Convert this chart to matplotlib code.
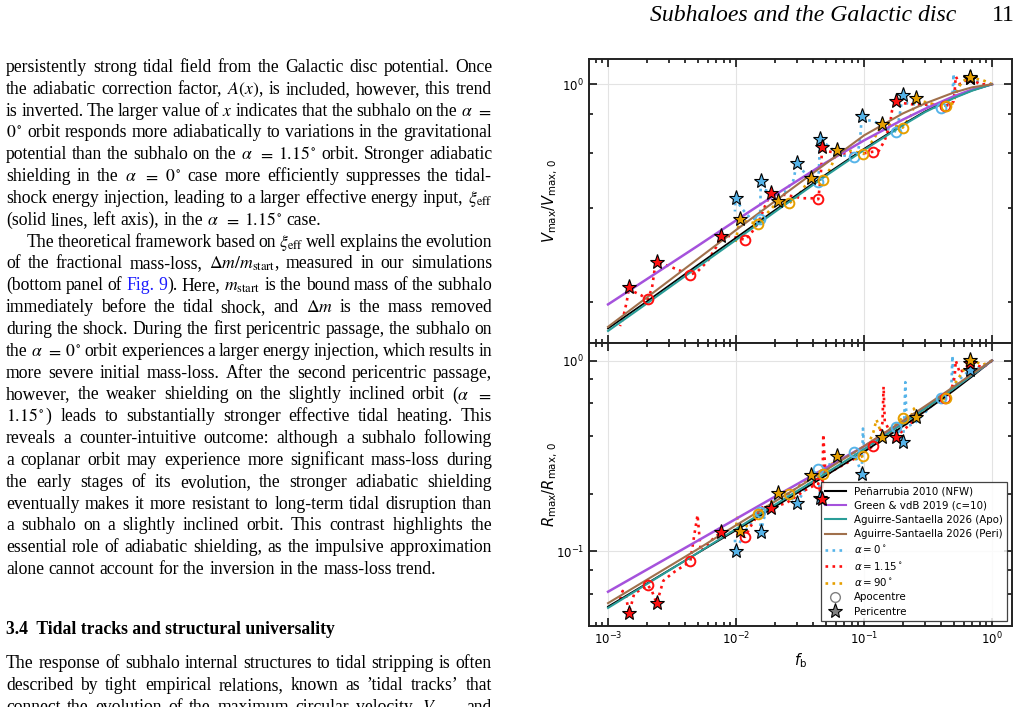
import matplotlib
matplotlib.use("Agg")
import matplotlib.pyplot as plt
import matplotlib.ticker as mticker
from matplotlib.lines import Line2D

W, H = 1023, 707

# ---------------- data ----------------
# model tidal tracks (sampled along the curves)
model_fb = [1e-3, 2e-3, 5e-3, 1e-2, 2e-2, 5e-2, 0.1, 0.2, 0.3, 0.5, 0.7, 1.0]
pen_v = [0.164, 0.200, 0.262, 0.321, 0.393, 0.512, 0.620, 0.742, 0.818, 0.905, 0.956, 1.0]
green_v = [0.196, 0.236, 0.302, 0.365, 0.440, 0.559, 0.660, 0.769, 0.834, 0.914, 0.962, 1.0]
apo_v = [0.161, 0.197, 0.258, 0.316, 0.388, 0.507, 0.615, 0.737, 0.814, 0.902, 0.954, 1.0]
peri_v = [0.166, 0.206, 0.274, 0.340, 0.420, 0.555, 0.685, 0.805, 0.868, 0.940, 0.978, 1.0]
pen_r = [0.0513, 0.0677, 0.0978, 0.129, 0.171, 0.249, 0.333, 0.451, 0.543, 0.695, 0.826, 1.0]
green_r = [0.0614, 0.080, 0.1135, 0.148, 0.193, 0.273, 0.355, 0.475, 0.568, 0.718, 0.844, 1.0]
apo_r = [0.0505, 0.0672, 0.098, 0.131, 0.175, 0.256, 0.343, 0.466, 0.560, 0.712, 0.840, 1.0]
peri_r = [0.0535, 0.0708, 0.1025, 0.137, 0.182, 0.266, 0.356, 0.482, 0.577, 0.728, 0.852, 1.0]

# pericentre (stars) and apocentre (circles) snapshots
star_fb_a0 = [0.0099, 0.0156, 0.0298, 0.0453, 0.0959, 0.200, 0.673]
star_v_a0 = [0.430, 0.490, 0.557, 0.666, 0.793, 0.924, 1.05]
star_r_a0 = [0.100, 0.127, 0.179, 0.190, 0.253, 0.376, 0.894]
circ_fb_a0 = [0.0154, 0.0439, 0.0836, 0.179, 0.400]
circ_v_a0 = [0.368, 0.486, 0.582, 0.704, 0.837]
circ_r_a0 = [0.161, 0.269, 0.331, 0.451, 0.640]

star_fb_a1 = [0.00146, 0.0024, 0.00764, 0.01866, 0.0467, 0.1766, 0.673]
star_v_a1 = [0.223, 0.268, 0.326, 0.446, 0.630, 0.884, 1.05]
star_r_a1 = [0.0473, 0.0533, 0.126, 0.168, 0.188, 0.399, 0.969]
circ_fb_a1 = [0.00204, 0.0044, 0.01175, 0.0439, 0.118, 0.425]
circ_v_a1 = [0.204, 0.244, 0.316, 0.427, 0.607, 0.852]
circ_r_a1 = [0.0666, 0.0893, 0.119, 0.227, 0.357, 0.635]

star_fb_a90 = [0.01075, 0.0214, 0.0383, 0.0619, 0.139, 0.255, 0.673]
star_v_a90 = [0.368, 0.421, 0.501, 0.615, 0.745, 0.902, 1.053]
star_r_a90 = [0.128, 0.2015, 0.251, 0.316, 0.399, 0.505, 1.01]
circ_fb_a90 = [0.0149, 0.0261, 0.0481, 0.0987, 0.200, 0.438]
circ_v_a90 = [0.356, 0.414, 0.493, 0.597, 0.725, 0.852]
circ_r_a90 = [0.157, 0.200, 0.2535, 0.316, 0.502, 0.635]

# simulation tracks (fb, value)
track_v_a0 = [(1.0, 1.0), (0.85, 1.0), (0.673, 1.05), (0.56, 1.0), (0.51, 0.93), (0.5, 1.08),
              (0.49, 0.92), (0.45, 0.86), (0.40, 0.837), (0.33, 0.845), (0.26, 0.86), (0.21, 0.87),
              (0.2, 0.924), (0.19, 0.80), (0.179, 0.704), (0.15, 0.72), (0.12, 0.76), (0.1, 0.77),
              (0.0959, 0.793), (0.094, 0.70), (0.09, 0.61), (0.0836, 0.582), (0.07, 0.59),
              (0.056, 0.62), (0.0453, 0.666), (0.0446, 0.56), (0.0439, 0.486), (0.037, 0.50),
              (0.0298, 0.557), (0.028, 0.49), (0.024, 0.45), (0.02, 0.44), (0.0165, 0.46),
              (0.0156, 0.49), (0.0155, 0.42), (0.0154, 0.368), (0.013, 0.37), (0.011, 0.40),
              (0.0099, 0.43), (0.0098, 0.39)]
track_v_a1 = [(1.0, 1.0), (0.9, 1.0), (0.8, 1.0), (0.673, 1.05), (0.56, 1.0), (0.52, 1.06),
              (0.51, 0.95), (0.5, 0.88), (0.47, 0.86), (0.425, 0.852), (0.38, 0.86), (0.3, 0.86),
              (0.25, 0.86), (0.2, 0.87), (0.1766, 0.884), (0.165, 0.82), (0.16, 0.75), (0.145, 0.66),
              (0.13, 0.61), (0.118, 0.607), (0.1, 0.60), (0.08, 0.60), (0.065, 0.60), (0.05, 0.61),
              (0.0467, 0.63), (0.0465, 0.55), (0.045, 0.47), (0.0439, 0.427), (0.04, 0.43),
              (0.033, 0.43), (0.025, 0.44), (0.01866, 0.446), (0.017, 0.41), (0.015, 0.36),
              (0.013, 0.33), (0.01175, 0.316), (0.0105, 0.32), (0.009, 0.325), (0.00764, 0.326),
              (0.007, 0.30), (0.006, 0.27), (0.005, 0.25), (0.0044, 0.244), (0.0038, 0.25),
              (0.003, 0.26), (0.0024, 0.268), (0.0023, 0.25), (0.0022, 0.22), (0.00204, 0.204),
              (0.0018, 0.21), (0.0016, 0.215), (0.00146, 0.223), (0.0014, 0.20), (0.0013, 0.175),
              (0.00124, 0.167)]
track_v_a90 = [(1.0, 1.0), (0.85, 1.03), (0.673, 1.053), (0.58, 1.02), (0.52, 0.93), (0.5, 0.87),
               (0.438, 0.852), (0.36, 0.86), (0.29, 0.88), (0.255, 0.902), (0.235, 0.80),
               (0.2, 0.725), (0.165, 0.74), (0.139, 0.745), (0.12, 0.67), (0.0987, 0.597),
               (0.08, 0.61), (0.0619, 0.615), (0.055, 0.54), (0.0481, 0.493), (0.043, 0.50),
               (0.0383, 0.501), (0.032, 0.45), (0.0261, 0.414), (0.0214, 0.421), (0.018, 0.39),
               (0.0149, 0.356), (0.012, 0.362), (0.01075, 0.368), (0.0103, 0.34), (0.0099, 0.31)]
track_r_a0 = [(1.0, 1.0), (0.85, 0.93), (0.673, 0.894), (0.56, 0.80), (0.5, 0.72), (0.49, 1.06),
              (0.48, 0.72), (0.44, 0.66), (0.40, 0.64), (0.32, 0.56), (0.25, 0.47), (0.215, 0.45),
              (0.21, 0.77), (0.205, 0.45), (0.2, 0.376), (0.179, 0.451), (0.15, 0.42), (0.12, 0.37),
              (0.1, 0.33), (0.098, 0.44), (0.0959, 0.253), (0.0836, 0.331), (0.065, 0.30),
              (0.05, 0.28), (0.0453, 0.19), (0.0439, 0.269), (0.036, 0.22), (0.0298, 0.179),
              (0.025, 0.20), (0.02, 0.185), (0.017, 0.16), (0.0156, 0.127), (0.0154, 0.161),
              (0.012, 0.13), (0.0099, 0.10), (0.0098, 0.115)]
track_r_a1 = [(1.0, 1.0), (0.85, 0.92), (0.673, 0.969), (0.56, 0.86), (0.52, 1.0), (0.51, 0.82),
              (0.48, 0.70), (0.425, 0.635), (0.36, 0.60), (0.28, 0.53), (0.21, 0.44),
              (0.1766, 0.399), (0.16, 0.42), (0.145, 0.48), (0.142, 0.73), (0.139, 0.47),
              (0.128, 0.38), (0.118, 0.357), (0.1, 0.33), (0.08, 0.30), (0.06, 0.27), (0.05, 0.25),
              (0.048, 0.41), (0.0475, 0.26), (0.0467, 0.188), (0.0439, 0.227), (0.035, 0.21),
              (0.025, 0.18), (0.01866, 0.168), (0.016, 0.17), (0.013, 0.135), (0.01175, 0.119),
              (0.0095, 0.125), (0.00764, 0.126), (0.0065, 0.115), (0.0053, 0.10), (0.005, 0.155),
              (0.0047, 0.12), (0.0044, 0.0893), (0.004, 0.085), (0.0032, 0.077), (0.0027, 0.07),
              (0.0024, 0.0533), (0.0022, 0.062), (0.00204, 0.0666), (0.0018, 0.063),
              (0.0016, 0.06), (0.00146, 0.0473), (0.00138, 0.058), (0.0013, 0.062),
              (0.00124, 0.056)]
track_r_a90 = [(1.0, 1.0), (0.85, 0.95), (0.673, 1.01), (0.58, 0.86), (0.5, 0.74), (0.438, 0.635),
               (0.36, 0.60), (0.3, 0.55), (0.255, 0.505), (0.245, 0.56), (0.23, 0.50),
               (0.2, 0.502), (0.17, 0.45), (0.15, 0.43), (0.139, 0.399), (0.125, 0.49),
               (0.118, 0.42), (0.0987, 0.316), (0.08, 0.30), (0.0619, 0.316), (0.055, 0.28),
               (0.0481, 0.2535), (0.043, 0.25), (0.0383, 0.251), (0.031, 0.22), (0.0261, 0.20),
               (0.0214, 0.2015), (0.018, 0.175), (0.0149, 0.157), (0.012, 0.135),
               (0.01075, 0.128), (0.0102, 0.15), (0.0099, 0.125)]

model_labels = ['Peñarrubia 2010 (NFW)', 'Green & vdB 2019 (c=10)',
                'Aguirre-Santaella 2026 (Apo)', 'Aguirre-Santaella 2026 (Peri)']
model_colors = ['black', '#a552dc', '#2a9d98', '#a0704c']
alpha_labels = [r'$\alpha=0^\circ$', r'$\alpha=1.15^\circ$', r'$\alpha=90^\circ$']
alpha_colors = ['#56B4E9', '#FF1010', '#E69F00']

# ---------------- page text ----------------
header = 'Subhaloes and the Galactic disc'
page_no = '11'
para1 = [
    'persistently strong tidal field from the Galactic disc potential. Once',
    'the adiabatic correction factor, $A(x)$, is included, however, this trend',
    r'is inverted. The larger value of $x$ indicates that the subhalo on the $\alpha$ $=$',
    r'$0^\circ$ orbit responds more adiabatically to variations in the gravitational',
    r'potential than the subhalo on the $\alpha$ $=$ $1.15^\circ$ orbit. Stronger adiabatic',
    r'shielding in the $\alpha$ $=$ $0^\circ$ case more efficiently suppresses the tidal-',
    r'shock energy injection, leading to a larger effective energy input, $\xi_{\mathrm{eff}}$',
    r'(solid lines, left axis), in the $\alpha$ $=$ $1.15^\circ$ case.',
]
para2 = [
    r'The theoretical framework based on $\xi_{\mathrm{eff}}$ well explains the evolution',
    r'of the fractional mass-loss, $\Delta~m/m_{\mathrm{start}}$, measured in our simulations',
    r'(bottom panel of @Fig. @9|). Here, $m_{\mathrm{start}}$ is the bound mass of the subhalo',
    r'immediately before the tidal shock, and $\Delta~m$ is the mass removed',
    'during the shock. During the first pericentric passage, the subhalo on',
    r'the $\alpha$ $=$ $0^\circ$ orbit experiences a larger energy injection, which results in',
    'more severe initial mass-loss. After the second pericentric passage,',
    r'however, the weaker shielding on the slightly inclined orbit ($\alpha$ $=$',
    r'$1.15^\circ$) leads to substantially stronger effective tidal heating. This',
    'reveals a counter-intuitive outcome: although a subhalo following',
    'a coplanar orbit may experience more significant mass-loss during',
    'the early stages of its evolution, the stronger adiabatic shielding',
    'eventually makes it more resistant to long-term tidal disruption than',
    'a subhalo on a slightly inclined orbit. This contrast highlights the',
    'essential role of adiabatic shielding, as the impulsive approximation',
    'alone cannot account for the inversion in the mass-loss trend.',
]
heading = '3.4  Tidal tracks and structural universality'
para3 = [
    'The response of subhalo internal structures to tidal stripping is often',
    'described by tight empirical relations, known as ’tidal tracks’ that',
    r'connect the evolution of the maximum circular velocity, $V_{\mathrm{max}}$, and',
]

fig = plt.figure(figsize=(W / 100, H / 100), dpi=100)
renderer = fig.canvas.get_renderer()

BODY = 12.7
serif = dict(family='Liberation Serif', math_fontfamily='stix', fontsize=BODY)


def fx(x):
    return x / W


def fy(y):
    return 1 - y / H


def put_line(line, y, justify=True, indent=0, x0=6, x1=492):
    groups = []
    for word in line.split(' '):
        grp = []
        for seg in word.split('|'):
            col = '#1a1aff' if seg.startswith('@') else 'black'
            seg = seg.lstrip('@').replace('~', ' ')
            grp.append(fig.text(0, fy(y), seg, color=col, va='baseline', ha='left', **serif))
        groups.append(grp)
    widths = [[t.get_window_extent(renderer).width for t in g] for g in groups]
    total = sum(sum(w) for w in widths)
    start = x0 + indent
    gap = BODY * 100 / 72 * 0.25
    if justify and len(groups) > 1:
        gap = max((x1 - start - total) / (len(groups) - 1), 1.0)
    x = start
    for g, ws in zip(groups, widths):
        for t, w in zip(g, ws):
            t.set_x(fx(x))
            x += w
        x += gap


LS = 21.83
y0 = 72.0
row = 0
for i, ln in enumerate(para1):
    put_line(ln, y0 + LS * row, justify=(i < len(para1) - 1))
    row += 1
for i, ln in enumerate(para2):
    put_line(ln, y0 + LS * row, justify=(i < len(para2) - 1), indent=21 if i == 0 else 0)
    row += 1
fig.text(fx(6), fy(633.5), heading, fontweight='bold', va='baseline', ha='left',
         family='Liberation Serif', fontsize=BODY)
for i, ln in enumerate(para3):
    put_line(ln, 668.5 + LS * i)

fig.text(fx(956), fy(21), header, style='italic', family='Liberation Serif',
         fontsize=17.1, ha='right', va='baseline')
fig.text(fx(1015), fy(21), page_no, family='Liberation Serif', fontsize=17.1,
         ha='right', va='baseline')

# ---------------- chart ----------------
ax1 = fig.add_axes([589 / W, fy(342.7), 423 / W, (342.7 - 59.3) / H])
ax2 = fig.add_axes([589 / W, fy(626), 423 / W, (626 - 342.7) / H], sharex=ax1)

star_sets = [(star_fb_a0, star_v_a0, star_r_a0), (star_fb_a1, star_v_a1, star_r_a1),
             (star_fb_a90, star_v_a90, star_r_a90)]
circ_sets = [(circ_fb_a0, circ_v_a0, circ_r_a0), (circ_fb_a1, circ_v_a1, circ_r_a1),
             (circ_fb_a90, circ_v_a90, circ_r_a90)]
tracks_v = [track_v_a0, track_v_a1, track_v_a90]
tracks_r = [track_r_a0, track_r_a1, track_r_a90]
models_v = [pen_v, green_v, apo_v, peri_v]
models_r = [pen_r, green_r, apo_r, peri_r]

for ax, models, tracks, idx in [(ax1, models_v, tracks_v, 1), (ax2, models_r, tracks_r, 2)]:
    for vals, col, lw in zip(models, model_colors, [1.3, 1.8, 1.5, 1.5]):
        ax.plot(model_fb, vals, color=col, lw=lw, zorder=3)
    for tr, col in zip(tracks, alpha_colors):
        fb, val = zip(*tr)
        ax.plot(fb, val, ls=':', lw=1.9, color=col, zorder=2)
    for cs, col in zip(circ_sets, alpha_colors):
        ax.plot(cs[0], cs[idx], 'o', ms=7, mfc='none', mec=col, mew=1.4, zorder=4)
    for ss, col in zip(star_sets, alpha_colors):
        ax.plot(ss[0], ss[idx], '*', ms=11, mfc=col, mec='black', mew=0.8, zorder=6)

    ax.set_xscale('log')
    ax.set_yscale('log')
    ax.grid(True, which='major', color='#e3e3e3', lw=0.8, zorder=0)
    ax.set_axisbelow(True)
    ax.yaxis.set_minor_locator(mticker.LogLocator(base=10, subs=(2, 4, 6, 8), numticks=12))
    ax.yaxis.set_minor_formatter(mticker.NullFormatter())
    ax.xaxis.set_minor_locator(mticker.LogLocator(base=10, subs=range(2, 10), numticks=12))
    ax.xaxis.set_minor_formatter(mticker.NullFormatter())
    ax.tick_params(which='both', direction='in', top=True, right=True, labelsize=8.5, width=1.1)
    ax.tick_params(which='major', length=5.5)
    ax.tick_params(which='minor', length=3)
    for sp in ax.spines.values():
        sp.set_linewidth(1.4)
        sp.set_color('#222222')

ax1.set_xlim(7.1e-4, 1.43)
ax1.set_ylim(0.1476, 1.203)
ax2.set_ylim(0.0406, 1.24)
ax1.tick_params(labelbottom=False)

ax1.set_ylabel(r'$V_{\rm max}/V_{\rm max,\,0}$', fontsize=10.5)
ax2.set_ylabel(r'$R_{\rm max}/R_{\rm max,\,0}$', fontsize=10.5)
ax1.yaxis.set_label_coords(-0.068, 0.5)
ax2.yaxis.set_label_coords(-0.068, 0.5)
ax2.set_xlabel(r'$f_{\rm b}$', fontsize=10.5, labelpad=3)

handles = [Line2D([], [], color=c, lw=1.5) for c in model_colors]
handles += [Line2D([], [], color=c, ls=':', lw=1.9) for c in alpha_colors]
handles += [Line2D([], [], ls='none', marker='o', ms=7, mfc='none', mec='gray', mew=1.0),
            Line2D([], [], ls='none', marker='*', ms=11, mfc='gray', mec='black', mew=0.8)]
labels = model_labels + alpha_labels + ['Apocentre', 'Pericentre']
leg = ax2.legend(handles, labels, loc='lower right', fontsize=7.4, labelspacing=0.42,
                 fancybox=False, edgecolor='#222222', framealpha=0.85)
leg.get_frame().set_linewidth(0.9)

fig.savefig('out.png', dpi=100)
